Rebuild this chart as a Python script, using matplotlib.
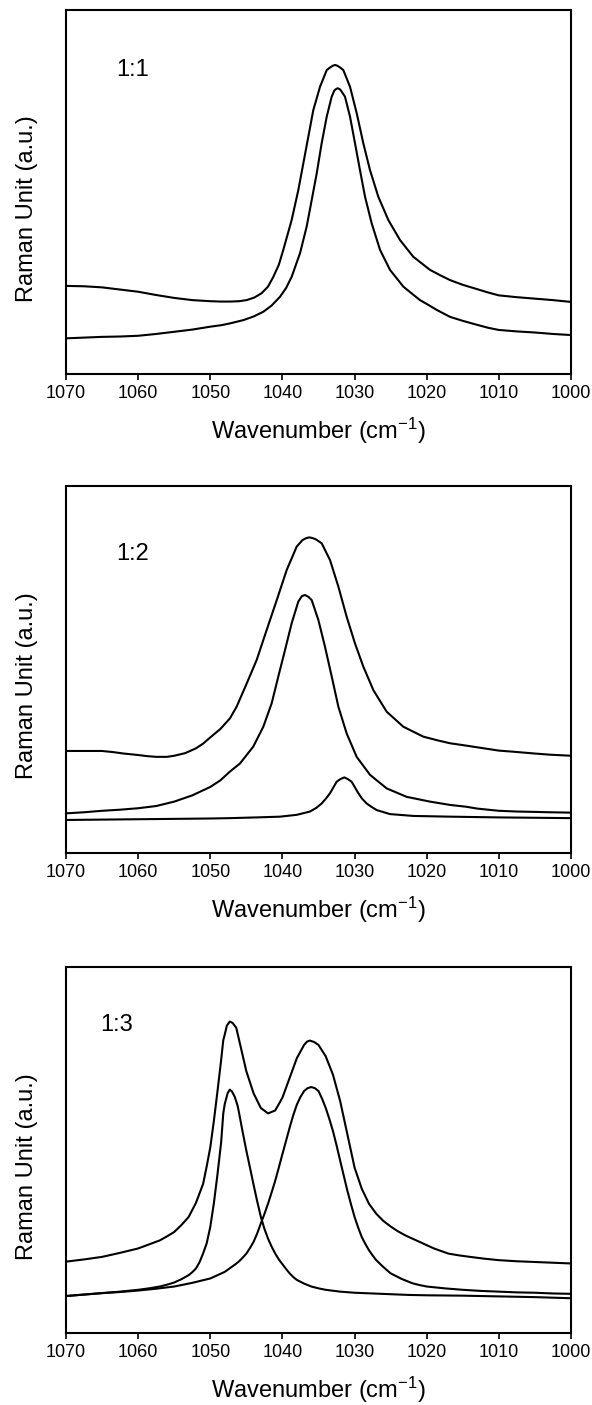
import matplotlib
matplotlib.use("Agg")
import matplotlib.pyplot as plt

plt.rcParams['font.family'] = ['Liberation Sans', 'DejaVu Sans']
plt.rcParams['mathtext.default'] = 'regular'

# panel 1 (1:1) -- intensities in arbitrary units (fraction of frame height)
p1_total_x = [1070, 1067.5, 1065, 1062.5, 1060, 1057.5, 1055, 1052.5, 1050, 1048.5, 1047.27, 1046,
              1044.96, 1043.9, 1042.88, 1042, 1041.26, 1040.5, 1039.88, 1038.72, 1037.8, 1037.1,
              1036.41, 1035.72, 1034.79, 1033.86, 1033.4, 1033.0, 1032.7, 1032.4, 1032.0, 1031.56,
              1030.63, 1029.7, 1028.79, 1027.86, 1026.71, 1025.32, 1023.7, 1021.86, 1019.54, 1018,
              1016.77, 1015, 1013, 1011.5, 1010, 1007.5, 1005, 1002.5, 1000]
p1_total_y = [0.242, 0.241, 0.238, 0.232, 0.226, 0.217, 0.209, 0.203, 0.200, 0.199, 0.199, 0.200,
              0.203, 0.210, 0.222, 0.240, 0.267, 0.300, 0.341, 0.423, 0.505, 0.579,
              0.652, 0.725, 0.789, 0.835, 0.842, 0.847, 0.849, 0.847, 0.842, 0.835,
              0.789, 0.716, 0.634, 0.560, 0.487, 0.423, 0.368, 0.322, 0.286, 0.270,
              0.258, 0.245, 0.233, 0.224, 0.216, 0.211, 0.207, 0.203, 0.198]

p1_comp_x = [1070, 1067.5, 1065, 1062.5, 1060, 1057.5, 1055, 1052.5, 1050, 1048.5, 1047.27, 1045.42,
             1044, 1042.65, 1041.5, 1040.34, 1039.5, 1038.72, 1037.56, 1036.64, 1035.94, 1035.25,
             1034.56, 1033.86, 1033.17, 1032.8, 1032.55, 1032.34, 1032.1, 1031.9, 1031.33, 1030.63,
             1029.94, 1029.25, 1028.55, 1027.63, 1026.47, 1025.09, 1023.24, 1022, 1020.93, 1019.7,
             1018.61, 1016.77, 1015, 1013, 1011.5, 1010, 1007.5, 1005, 1002.5, 1000]
p1_comp_y = [0.098, 0.100, 0.102, 0.103, 0.105, 0.110, 0.116, 0.122, 0.130, 0.134, 0.139, 0.148,
             0.158, 0.171, 0.188, 0.212, 0.236, 0.267, 0.332, 0.405, 0.478, 0.551,
             0.634, 0.707, 0.762, 0.779, 0.783, 0.785, 0.783, 0.779, 0.762, 0.707,
             0.634, 0.560, 0.487, 0.414, 0.341, 0.286, 0.240, 0.220, 0.203, 0.189,
             0.176, 0.157, 0.146, 0.135, 0.127, 0.121, 0.117, 0.114, 0.110, 0.107]

# panel 2 (1:2)
p2_total_x = [1070, 1067.5, 1065, 1063.5, 1062, 1060, 1058.8, 1057.5, 1056, 1055, 1053.5, 1052,
              1051, 1050, 1048.6, 1047.27, 1046.34, 1044.95, 1043.57, 1042.18, 1040.79, 1039.41,
              1038.02, 1037.2, 1036.7, 1036.27, 1035.8, 1035.4, 1034.56, 1033.4, 1032.25, 1031.1,
              1029.94, 1028.79, 1027.4, 1025.55, 1023.24, 1020.47, 1018.5, 1016.77, 1015, 1012,
              1010, 1008, 1005, 1003, 1000]
p2_total_y = [0.278, 0.278, 0.278, 0.275, 0.271, 0.267, 0.264, 0.262, 0.262, 0.265, 0.272, 0.285,
              0.298, 0.315, 0.338, 0.367, 0.399, 0.462, 0.526, 0.608, 0.689, 0.771,
              0.835, 0.853, 0.858, 0.860, 0.858, 0.855, 0.844, 0.798, 0.726, 0.644,
              0.571, 0.508, 0.444, 0.385, 0.344, 0.317, 0.307, 0.299, 0.294, 0.285,
              0.279, 0.276, 0.271, 0.268, 0.265]

p2_comp1_x = [1070, 1067.5, 1065, 1062.5, 1060, 1057.5, 1055, 1052.5, 1050, 1048.6, 1047.27, 1045.88,
              1044.04, 1042.65, 1041.49, 1040.57, 1039.64, 1038.72, 1037.8, 1037.3, 1036.87,
              1036.4, 1035.94, 1035.02, 1034.1, 1033.17, 1032.25, 1031.1, 1029.71, 1027.86,
              1025.55, 1022.78, 1019.54, 1018, 1016.77, 1014.5, 1013, 1011.5, 1010, 1007.5,
              1005, 1003, 1000]
p2_comp1_y = [0.108, 0.111, 0.115, 0.118, 0.122, 0.128, 0.140, 0.157, 0.180, 0.198, 0.222, 0.244,
              0.290, 0.344, 0.408, 0.481, 0.553, 0.626, 0.685, 0.700, 0.703,
              0.698, 0.689, 0.635, 0.562, 0.481, 0.399, 0.326, 0.262, 0.213,
              0.176, 0.153, 0.140, 0.135, 0.131, 0.126, 0.121, 0.118, 0.115, 0.113,
              0.112, 0.111, 0.110]

p2_comp2_x = [1070, 1060, 1050, 1047.27, 1043.57, 1040.34, 1038.02, 1036.18, 1035.3, 1034.56,
              1033.9, 1033.4, 1032.49, 1032, 1031.42, 1030.9, 1030.4, 1029.48, 1029, 1028.33,
              1027.6, 1026.94, 1025.09, 1021.86, 1016.77, 1010, 1000]
p2_comp2_y = [0.090, 0.092, 0.094, 0.095, 0.097, 0.099, 0.104, 0.113, 0.123, 0.135,
              0.150, 0.163, 0.194, 0.201, 0.206, 0.201, 0.194, 0.163, 0.149, 0.135,
              0.125, 0.117, 0.106, 0.101, 0.099, 0.097, 0.095]

# panel 3 (1:3)
p3_total_x = [1070, 1067.5, 1065, 1062.5, 1060, 1058.5, 1057, 1056, 1055, 1054, 1053, 1052, 1051,
              1050.5, 1050, 1049.5, 1049, 1048.5, 1048.2, 1048, 1047.7, 1047.3, 1046.9, 1046.4,
              1046, 1045, 1044, 1043, 1042, 1041, 1040, 1039, 1038, 1037, 1036.6, 1036.2, 1035.6,
              1035, 1034, 1033, 1032, 1031, 1030, 1029, 1028, 1027, 1026, 1025, 1024, 1023, 1022,
              1021, 1020, 1019, 1018, 1017, 1015.5, 1014, 1012, 1010, 1007.5, 1005, 1002.5, 1000]
p3_total_y = [0.195, 0.201, 0.208, 0.219, 0.231, 0.242, 0.253, 0.264, 0.276, 0.295, 0.317, 0.355, 0.407,
              0.455, 0.507, 0.580, 0.661, 0.745, 0.800, 0.815, 0.840, 0.851, 0.847, 0.834,
              0.800, 0.715, 0.655, 0.615, 0.600, 0.608, 0.643, 0.697, 0.751, 0.787, 0.796, 0.799, 0.795,
              0.787, 0.756, 0.706, 0.634, 0.543, 0.452, 0.394, 0.353, 0.326, 0.306, 0.291, 0.278, 0.267,
              0.258, 0.249, 0.240, 0.231, 0.224, 0.217, 0.212, 0.208, 0.203, 0.199, 0.196, 0.194, 0.192,
              0.190]

p3_comp1_x = [1070, 1067.5, 1065, 1062.5, 1060, 1058.5, 1057, 1056, 1055, 1054, 1053, 1052.5, 1052,
              1051.5, 1051, 1050.5, 1050, 1049.5, 1049, 1048.5, 1048.2, 1048, 1047.6, 1047.3, 1047.0,
              1046.6, 1046.2, 1046, 1045.5, 1045, 1044.5, 1044, 1043.5, 1043, 1042.5, 1042, 1041.5,
              1041, 1040.5, 1040, 1039.5, 1039, 1038.5, 1038, 1037, 1036, 1035, 1034, 1032, 1030,
              1027.5, 1025, 1022.5, 1020, 1015, 1010, 1005, 1000]
p3_comp1_y = [0.101, 0.105, 0.109, 0.113, 0.118, 0.122, 0.127, 0.132, 0.138, 0.147, 0.158, 0.166, 0.176,
              0.193, 0.217, 0.245, 0.290, 0.355, 0.434, 0.520, 0.600, 0.625, 0.655, 0.665, 0.660,
              0.645, 0.620, 0.600, 0.548, 0.498, 0.452, 0.405, 0.360, 0.318, 0.285, 0.258, 0.236,
              0.217, 0.201, 0.188, 0.175, 0.163, 0.153, 0.145, 0.135, 0.127, 0.122, 0.118, 0.113, 0.110,
              0.108, 0.106, 0.104, 0.103, 0.102, 0.100, 0.098, 0.095]

p3_comp2_x = [1070, 1067.5, 1065, 1062.5, 1060, 1057.5, 1055, 1052.5, 1050, 1049, 1048, 1047,
              1046.5, 1046, 1045.5, 1045, 1044.5, 1044, 1043.5, 1043, 1042.5, 1042, 1041.5, 1041,
              1040.5, 1040, 1039.5, 1039, 1038.5, 1038, 1037.5, 1037, 1036.5, 1036, 1035.5, 1035,
              1034.5, 1034, 1033.5, 1033, 1032.5, 1032, 1031.5, 1031, 1030.5, 1030, 1029.5, 1029,
              1028.5, 1028, 1027.5, 1027, 1026, 1025, 1023.5, 1022, 1021, 1020, 1017.5, 1015,
              1012.5, 1010, 1007.5, 1005, 1002.5, 1000]
p3_comp2_y = [0.101, 0.105, 0.109, 0.112, 0.116, 0.121, 0.127, 0.137, 0.149, 0.158, 0.167, 0.181,
              0.188, 0.196, 0.206, 0.217, 0.232, 0.249, 0.272, 0.299, 0.325, 0.353, 0.384, 0.416,
              0.452, 0.489, 0.525, 0.561, 0.595, 0.624, 0.645, 0.661, 0.669, 0.672, 0.669, 0.661,
              0.640, 0.615, 0.585, 0.552, 0.513, 0.471, 0.430, 0.389, 0.352, 0.317, 0.288, 0.262,
              0.243, 0.226, 0.212, 0.199, 0.180, 0.163, 0.148, 0.136, 0.131, 0.127, 0.122, 0.118,
              0.115, 0.113, 0.111, 0.110, 0.108, 0.107]

panel_labels = ["1:1", "1:2", "1:3"]
label_pos = [(1063.1, 0.835), (1063.1, 0.815), (1065.3, 0.842)]
x_ticks = [1070, 1060, 1050, 1040, 1030, 1020, 1010, 1000]

panels = [
    [(p1_total_x, p1_total_y), (p1_comp_x, p1_comp_y)],
    [(p2_total_x, p2_total_y), (p2_comp1_x, p2_comp1_y), (p2_comp2_x, p2_comp2_y)],
    [(p3_total_x, p3_total_y), (p3_comp1_x, p3_comp1_y), (p3_comp2_x, p3_comp2_y)],
]

fig = plt.figure(figsize=(5.92, 14.05), dpi=100)

# axes boxes in pixels: (top, bottom)
boxes = [(10, 374), (486, 853), (967, 1333)]
left, right = 66, 571
W, H = 592, 1405

for i, (top, bottom) in enumerate(boxes):
    ax = fig.add_axes([left / W, 1 - bottom / H, (right - left) / W, (bottom - top) / H])
    for xs, ys in panels[i]:
        ax.plot(xs, ys, color='black', lw=1.5)
    ax.set_xlim(1070, 1000)
    ax.set_ylim(0, 1)
    ax.set_xticks(x_ticks)
    ax.set_yticks([])
    ax.tick_params(axis='x', direction='out', length=4, width=1.2, pad=4, labelsize=13)
    for s in ax.spines.values():
        s.set_linewidth(1.5)
    ax.set_xlabel('Wavenumber (cm$^{-1}$)', fontsize=17, labelpad=10)
    ax.set_ylabel('Raman Unit (a.u.)', fontsize=17)
    ax.yaxis.set_label_coords(-0.055, 0.455)
    lx, ly = label_pos[i]
    ax.text(lx, ly, panel_labels[i], fontsize=17, ha='left', va='center')

fig.savefig('out.png', dpi=100)
